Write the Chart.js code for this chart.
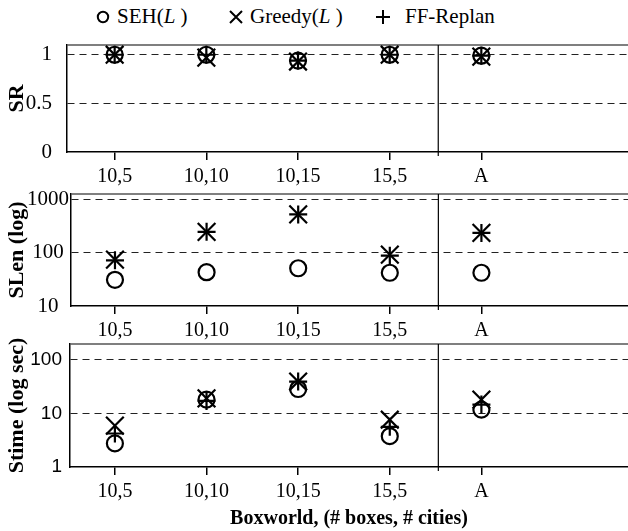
<!DOCTYPE html>
<html>
<head>
<meta charset="utf-8">
<script src="https://cdn.jsdelivr.net/npm/chart.js@4.4.0/dist/chart.umd.min.js"></script>
<style>
  body { margin: 0; background: #fff; width: 628px; height: 531px; overflow: hidden; position: relative;
         font-family: 'Liberation Serif', 'Times New Roman', Times, 'DejaVu Serif', serif; }
  .panel { position: absolute; left: 0; width: 628px; }
  .leg { position: absolute; top: 4px; font-size: 21px; line-height: 25px; color: #000; white-space: nowrap; }
  .mk { position: absolute; }
</style>
</head>
<body>
<div id="legend">
  <svg class="mk" style="left:96px;top:10px" width="14" height="14"><circle cx="7" cy="7" r="5.2" fill="none" stroke="#000" stroke-width="2"/></svg>
  <span class="leg" style="left:117px">SEH(<i>L</i> )</span>
  <svg class="mk" style="left:228px;top:9px" width="16" height="16"><path d="M2 2L14 14M14 2L2 14" stroke="#000" stroke-width="2"/></svg>
  <span class="leg" style="left:250px">Greedy(<i>L</i> )</span>
  <svg class="mk" style="left:375px;top:9px" width="16" height="16"><path d="M8 1V15M1 8H15" stroke="#000" stroke-width="2"/></svg>
  <span class="leg" style="left:405px">FF-Replan</span>
</div>
<div class="panel" style="top:40px;height:150px"><canvas id="sr"></canvas></div>
<div class="panel" style="top:184px;height:156px"><canvas id="slen"></canvas></div>
<div class="panel" style="top:326px;height:205px"><canvas id="stime"></canvas></div>
<script>
let categories = ['10,5', '10,10', '10,15', '15,5', 'A'];
let catPos = [0, 1, 2, 3, 4];
let groupSplit = 3.53;

let srSEH = [1.0, 1.0, 0.94, 1.0, 0.99];
let srGreedy = [1.0, 0.97, 0.93, 1.0, 0.98];
let srFF = [1.0, 1.0, 0.94, 1.0, 0.99];

let slenSEH = [31, 43, 51, 42, 42];
let slenGreedy = [74, 246, 522, 92, 235];
let slenFF = [72, 246, 522, 88, 235];

let stimeSEH = [2.75, 18, 28.3, 3.75, 11.7];
let stimeGreedy = [5.9, 19, 39, 7.6, 18];
let stimeFF = [4.2, 17, 39, 5.6, 14.5];

let srTicks = [0, 0.5, 1];
let slenTicks = [10, 100, 1000];
let stimeTicks = [1, 10, 100];

let serif = "'Liberation Serif', 'Times New Roman', Times, 'DejaVu Serif', serif";
let sans = "'Liberation Sans', Arial, sans-serif";

let styles = [
  { label: 'SEH(L)', pointStyle: 'circle', radius: 8 },
  { label: 'Greedy(L)', pointStyle: 'crossRot', radius: 12.5 },
  { label: 'FF-Replan', pointStyle: 'cross', radius: 9 }
];

// top edge of the frame and the separator before "A"
let framePlugin = {
  id: 'frame',
  beforeDatasetsDraw(chart) {
    let ctx = chart.ctx, a = chart.chartArea;
    ctx.save();
    ctx.strokeStyle = '#555';
    ctx.lineWidth = 1.5;
    ctx.beginPath();
    ctx.moveTo(a.left, a.top);
    ctx.lineTo(a.right, a.top);
    ctx.stroke();
    let sx = chart.scales.x.getPixelForValue(groupSplit);
    ctx.strokeStyle = '#000';
    ctx.lineWidth = 1.2;
    ctx.beginPath();
    ctx.moveTo(sx, a.top);
    ctx.lineTo(sx, a.bottom + 4);
    ctx.stroke();
    ctx.restore();
  }
};

function makeChart(id, values, opt) {
  let datasets = values.map((vals, i) => ({
    label: styles[i].label,
    data: catPos.map((x, j) => ({ x: x, y: vals[j] })),
    pointStyle: styles[i].pointStyle,
    pointRadius: styles[i].radius,
    pointBorderWidth: 2.2,
    borderColor: '#000',
    backgroundColor: 'rgba(0,0,0,0)',
    clip: false
  }));
  let bottomTick = opt.ticks[0];
  return new Chart(document.getElementById(id).getContext('2d'), {
    type: 'scatter',
    data: { datasets: datasets },
    plugins: [framePlugin],
    options: {
      responsive: true,
      maintainAspectRatio: false,
      animation: false,
      layout: { autoPadding: false, padding: { top: opt.padTop, right: 0, left: 0, bottom: 0 } },
      plugins: { legend: { display: false }, tooltip: { enabled: false } },
      scales: {
        x: {
          type: 'linear',
          min: opt.xMin,
          max: 5.6,
          afterBuildTicks: (axis) => { axis.ticks = catPos.map(v => ({ value: v })); },
          afterFit: (s) => { s.height = opt.xHeight; s.paddingLeft = 0; s.paddingRight = 0; },
          ticks: {
            autoSkip: false, maxRotation: 0, padding: 5, color: '#000',
            font: { family: serif, size: 20 },
            callback: (v) => categories[v]
          },
          grid: { drawOnChartArea: false, tickLength: 8, color: '#000', lineWidth: 1.5 },
          border: { color: '#000', width: 1.5 },
          title: {
            display: !!opt.xTitle, text: opt.xTitle || '', color: '#000',
            font: { family: serif, size: 20, weight: 'bold' }, padding: { top: 0, bottom: 0 }
          }
        },
        y: {
          type: opt.type,
          min: opt.min,
          max: opt.max,
          afterBuildTicks: (axis) => { axis.ticks = opt.ticks.map(v => ({ value: v })); },
          afterFit: (s) => { s.width = opt.left; s.paddingTop = 0; s.paddingBottom = 0; },
          ticks: {
            color: '#000', padding: opt.tickPad, crossAlign: opt.align,
            font: { family: opt.tickFamily, size: opt.tickSize },
            callback: (v) => String(v)
          },
          grid: {
            drawTicks: false, lineWidth: 1,
            color: (c) => (c.tick && c.tick.value === bottomTick) ? 'rgba(0,0,0,0)' : '#222'
          },
          border: { color: '#000', width: 1.5, dash: [7, 5] },
          title: {
            display: true, text: opt.yTitle, color: '#000',
            font: { family: serif, size: 22, weight: 'bold' }, padding: { top: 4, bottom: 0 }
          }
        }
      }
    }
  });
}

makeChart('sr', [srSEH, srGreedy, srFF], {
  type: 'linear', min: 0, max: 1.1, ticks: srTicks, yTitle: 'SR',
  left: 67, xMin: -0.52, padTop: 5, xHeight: 38,
  tickPad: 15, align: 'near', tickFamily: serif, tickSize: 21
});

makeChart('slen', [slenSEH, slenGreedy, slenFF], {
  type: 'logarithmic', min: 10, max: 1260, ticks: slenTicks, yTitle: 'SLen (log)',
  left: 71, xMin: -0.48, padTop: 10, xHeight: 34,
  tickPad: 2, align: 'center', tickFamily: serif, tickSize: 21
});

makeChart('stime', [stimeSEH, stimeGreedy, stimeFF], {
  type: 'logarithmic', min: 1, max: 195, ticks: stimeTicks, yTitle: 'Stime (log sec)',
  left: 70, xMin: -0.49, padTop: 18, xHeight: 64, xTitle: 'Boxworld, (# boxes, # cities)',
  tickPad: 8, align: 'near', tickFamily: sans, tickSize: 19
});
</script>
</body>
</html>
